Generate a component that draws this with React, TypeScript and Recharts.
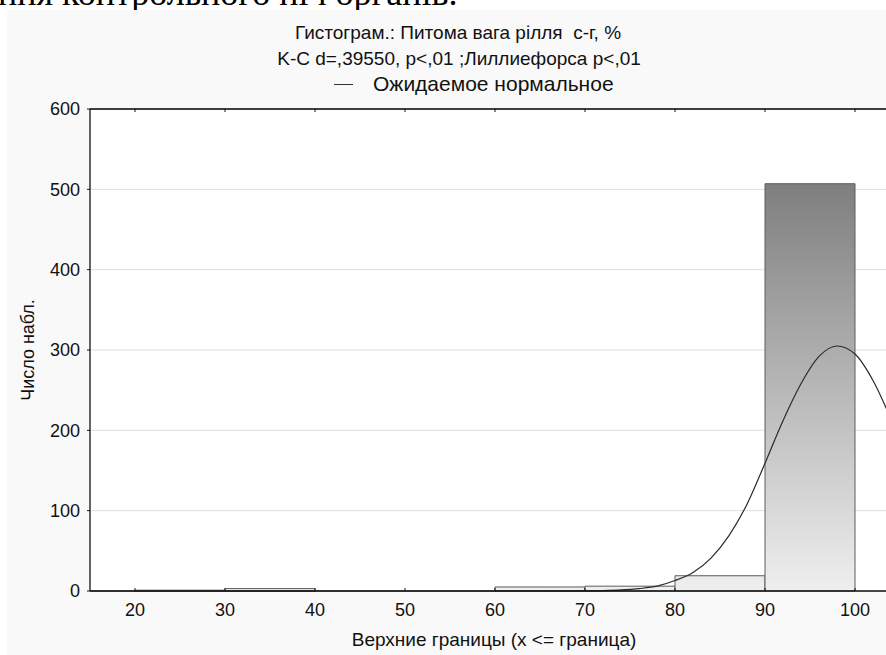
import { Bar, CartesianGrid, ComposedChart, Line, ReferenceLine, XAxis, YAxis } from "recharts";

// histogram bins (lower bound, width 10) and counts
const binLower = [10, 20, 30, 40, 50, 60, 70, 80, 90, 100];
const binCounts = [0, 1, 3, 0, 0, 5, 6, 19, 507, 0];

// expected normal curve
const curveX = [15, 65, 70, 72, 74, 76, 78, 80, 82, 84, 86, 88, 90, 92, 94, 96, 98, 100, 102, 104, 106];
const curveY = [0, 0, 0.2, 0.5, 1.3, 3, 6, 13, 23, 41, 69, 108, 159, 212, 258, 292, 305, 295, 262, 214, 160];

const xTicks = [20, 30, 40, 50, 60, 70, 80, 90, 100];
const yTicks = [0, 100, 200, 300, 400, 500, 600];

const bins = binLower.map((lo, i) => ({ mid: lo + 5, count: binCounts[i] }));
const curve = curveX.map((x, i) => ({ x, y: curveY[i] }));

const sans = '"Liberation Sans", Arial, sans-serif';
const tickStyle = { fill: "#111", fontSize: 18, fontFamily: sans };

export default function App() {
  return (
    <div
      style={{
        position: "fixed",
        left: 0,
        top: 0,
        width: 886,
        height: 655,
        overflow: "hidden",
        background: "#fff",
        fontFamily: sans,
        color: "#111",
      }}
    >
      <div
        style={{
          position: "absolute",
          left: -2,
          top: -25,
          fontFamily: '"Liberation Serif", "Times New Roman", serif',
          fontSize: 36,
          lineHeight: "36px",
          whiteSpace: "nowrap",
          color: "#000",
        }}
      >
        ння контрольного ніч органів.
      </div>
      <div style={{ position: "absolute", left: 7, top: 10, right: 0, bottom: 0, background: "#f9f9f9" }} />

      <div style={{ position: "absolute", left: 0, top: 0 }}>
        <ComposedChart
          width={1000}
          height={655}
          data={bins}
          margin={{ top: 108, right: 100, bottom: 34, left: 30 }}
          barCategoryGap={0}
          barGap={0}
        >
          <defs>
            <linearGradient id="histFill" gradientUnits="userSpaceOnUse" x1="0" y1="109" x2="0" y2="591">
              <stop offset="0%" stopColor="#6a6a6a" />
              <stop offset="100%" stopColor="#efefef" />
            </linearGradient>
          </defs>
          <CartesianGrid vertical={false} stroke="#dedede" fill="#fff" />
          <XAxis
            xAxisId="bins"
            dataKey="mid"
            type="number"
            domain={[15, 105]}
            ticks={xTicks}
            interval={0}
            allowDataOverflow
            height={30}
            tickSize={-3}
            tickMargin={15}
            axisLine={{ stroke: "#111", strokeWidth: 1.3 }}
            tickLine={{ stroke: "#111" }}
            tick={tickStyle}
          />
          <XAxis
            xAxisId="curve"
            orientation="top"
            dataKey="x"
            type="number"
            domain={[15, 105]}
            ticks={xTicks}
            interval={0}
            allowDataOverflow
            height={1}
            tickSize={-3}
            tickFormatter={() => ""}
            axisLine={{ stroke: "#333", strokeWidth: 1.5 }}
            tickLine={{ stroke: "#111" }}
          />
          <YAxis
            type="number"
            domain={[0, 600]}
            ticks={yTicks}
            interval={0}
            width={60}
            tickSize={3}
            tickMargin={7}
            axisLine={{ stroke: "#111", strokeWidth: 1.3 }}
            tickLine={{ stroke: "#111" }}
            tick={tickStyle}
          />
          <ReferenceLine xAxisId="bins" y={600} stroke="#333" strokeWidth={1.5} />
          <Bar
            xAxisId="bins"
            dataKey="count"
            fill="url(#histFill)"
            stroke="#5c5c5c"
            strokeWidth={1}
            isAnimationActive={false}
          />
          <Line
            xAxisId="curve"
            data={curve}
            dataKey="y"
            type="monotone"
            stroke="#2a2a2a"
            strokeWidth={1.2}
            dot={false}
            activeDot={false}
            isAnimationActive={false}
          />
        </ComposedChart>
      </div>

      <div style={{ position: "absolute", left: 0, width: 916, top: 23.4, textAlign: "center", fontSize: 19, lineHeight: "19px", whiteSpace: "nowrap" }}>
        Гистограм.: Питома вага рілля&nbsp; с-г, %
      </div>
      <div style={{ position: "absolute", left: 0, width: 918, top: 48.9, textAlign: "center", fontSize: 19, lineHeight: "19px", whiteSpace: "nowrap" }}>
        K-C d=,39550, p&lt;,01 ;Лиллиефорса p&lt;,01
      </div>
      <div style={{ position: "absolute", left: 334, width: 19, top: 84, height: 1, background: "#333" }} />
      <div style={{ position: "absolute", left: 373, top: 73.5, fontSize: 21, lineHeight: "19px", whiteSpace: "nowrap" }}>
        Ожидаемое нормальное
      </div>
      <div style={{ position: "absolute", left: 0, width: 988, top: 630, textAlign: "center", fontSize: 19, lineHeight: "19px", whiteSpace: "nowrap" }}>
        Верхние границы (x &lt;= граница)
      </div>
      <div
        style={{
          position: "absolute",
          left: 28,
          top: 350,
          transform: "translate(-50%, -50%) rotate(-90deg)",
          fontSize: 18,
          lineHeight: "18px",
          whiteSpace: "nowrap",
        }}
      >
        Число набл.
      </div>
    </div>
  );
}
